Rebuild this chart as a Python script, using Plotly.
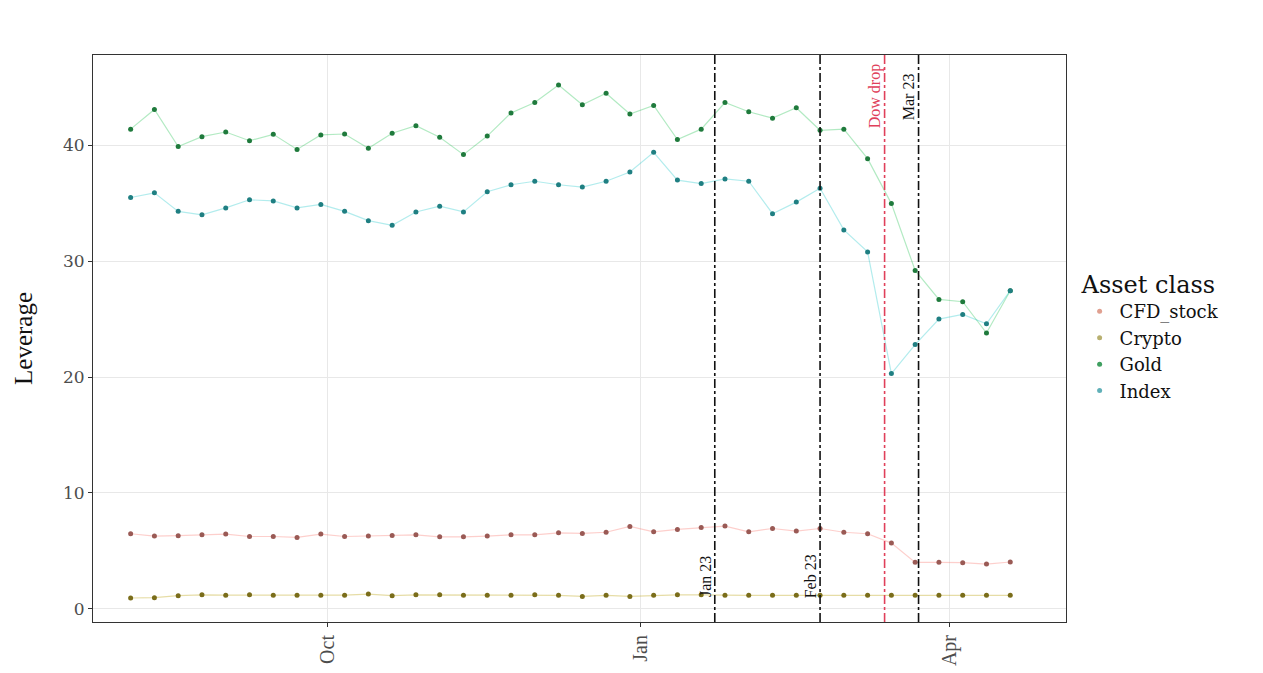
import plotly.graph_objects as go
import pandas as pd

dates = pd.date_range("2019-08-04", periods=38, freq="7D")

cfd_stock = [6.47, 6.27, 6.30, 6.38, 6.44, 6.23, 6.23, 6.15, 6.44, 6.23,
             6.27, 6.32, 6.38, 6.20, 6.20, 6.27, 6.38, 6.38, 6.55, 6.50,
             6.60, 7.10, 6.64, 6.84, 7.00, 7.13, 6.64, 6.92, 6.70, 6.92,
             6.60, 6.47, 5.66, 4.00, 4.00, 3.97, 3.85, 4.03]
crypto = [0.92, 0.95, 1.12, 1.20, 1.17, 1.20, 1.17, 1.17, 1.17, 1.17,
          1.26, 1.12, 1.20, 1.20, 1.15, 1.15, 1.15, 1.20, 1.15, 1.06,
          1.15, 1.06, 1.15, 1.20, 1.20, 1.15, 1.15, 1.15, 1.15, 1.15,
          1.15, 1.15, 1.15, 1.15, 1.15, 1.15, 1.15, 1.15]
gold = [41.4, 43.1, 39.9, 40.75, 41.15, 40.4, 40.95, 39.65, 40.9, 40.98,
        39.75, 41.05, 41.7, 40.7, 39.2, 40.8, 42.8, 43.7, 45.2, 43.5,
        44.5, 42.7, 43.45, 40.5, 41.4, 43.7, 42.9, 42.35, 43.25, 41.3,
        41.4, 38.85, 34.97, 29.2, 26.7, 26.5, 23.8, 27.45]
index = [35.5, 35.9, 34.3, 34.0, 34.6, 35.3, 35.2, 34.6, 34.9, 34.3,
         33.5, 33.1, 34.25, 34.75, 34.25, 36.0, 36.6, 36.9, 36.6, 36.4,
         36.9, 37.7, 39.4, 37.0, 36.7, 37.1, 36.9, 34.1, 35.1, 36.3,
         32.7, 30.8, 20.3, 22.8, 25.0, 25.4, 24.6, 27.45]

series_names = ["CFD_stock", "Crypto", "Gold", "Index"]
series_values = [cfd_stock, crypto, gold, index]

event_dates = ["2020-01-23", "2020-02-23", "2020-03-13", "2020-03-23"]
event_labels = ["Jan 23", "Feb 23", "Dow drop", "Mar 23"]
event_label_y = [2.8, 2.8, 44.2, 44.2]

x_tick_vals = ["2019-10-01", "2020-01-01", "2020-04-01"]
x_tick_text = ["Oct", "Jan", "Apr"]
y_tick_vals = [0, 10, 20, 30, 40]

line_colors = ["rgba(248,118,109,0.35)", "rgba(183,159,0,0.35)",
               "rgba(0,186,56,0.3)", "rgba(0,191,196,0.3)"]
marker_colors = ["#9a5a55", "#7a6d1a", "#1f7a3c", "#1f7f82"]
legend_colors = ["#e0a090", "#b8b070", "#3f9f60", "#60b0b8"]
event_colors = ["#111111", "#111111", "#e0405a", "#111111"]

SERIF = "Liberation Serif, Times New Roman, serif"
WIDE = "DejaVu Serif, serif"

fig = go.Figure()
for name, vals, lc in zip(series_names, series_values, line_colors):
    fig.add_trace(go.Scatter(x=dates, y=vals, mode="lines",
                             line=dict(color=lc, width=1.2),
                             showlegend=False, legendgroup=name, hoverinfo="skip"))
for name, vals, mc, lg in zip(series_names, series_values, marker_colors, legend_colors):
    fig.add_trace(go.Scatter(x=dates, y=vals, mode="markers", name=name,
                             marker=dict(color=mc, size=5),
                             legendgroup=name, showlegend=False))
    fig.add_trace(go.Scatter(x=[None], y=[None], mode="markers", name=name,
                             marker=dict(color=lg, size=5),
                             legendgroup=name, showlegend=True))

for d, lab, ly, col in zip(event_dates, event_labels, event_label_y, event_colors):
    fig.add_shape(type="line", xref="x", yref="paper", x0=d, x1=d, y0=0, y1=1,
                  line=dict(color=col, width=1.6, dash="dashdot"))
    fig.add_annotation(x=d, y=ly, xref="x", yref="y", text=lab, showarrow=False,
                       textangle=-90, xshift=-10,
                       font=dict(family=SERIF, size=16, color=col))

fig.update_layout(
    width=1263, height=673,
    margin=dict(l=85, r=205, t=47, b=59),
    paper_bgcolor="white", plot_bgcolor="white",
    font=dict(family=SERIF, color="#4d4d4d"),
    legend=dict(x=1.014, y=0.635, xanchor="left", yanchor="top",
                title=dict(text="Asset class", font=dict(family=WIDE, size=24, color="#111111")),
                font=dict(family=WIDE, size=18, color="#111111"),
                tracegroupgap=0, itemsizing="trace", itemwidth=30),
)
fig.update_xaxes(
    range=["2019-07-23 22:00", "2020-05-05 10:00"],
    tickvals=x_tick_vals, ticktext=x_tick_text, tickangle=-90,
    tickfont=dict(family=SERIF, size=20, color="#4d4d4d"),
    showgrid=True, gridcolor="#e8e8e8", gridwidth=1,
    showline=True, mirror=True, linecolor="#333333", linewidth=1,
    ticks="outside", ticklen=4, tickcolor="#333333", zeroline=False,
)
fig.update_yaxes(
    range=[-1.15, 47.8],
    tickvals=y_tick_vals,
    tickfont=dict(family=WIDE, size=17, color="#4d4d4d"),
    title=dict(text="Leverage", font=dict(family=SERIF, size=25, color="#111111"), standoff=23),
    showgrid=True, gridcolor="#e8e8e8", gridwidth=1,
    showline=True, mirror=True, linecolor="#333333", linewidth=1,
    ticks="outside", ticklen=4, tickcolor="#333333", zeroline=False,
)

fig.write_html("out.html")
